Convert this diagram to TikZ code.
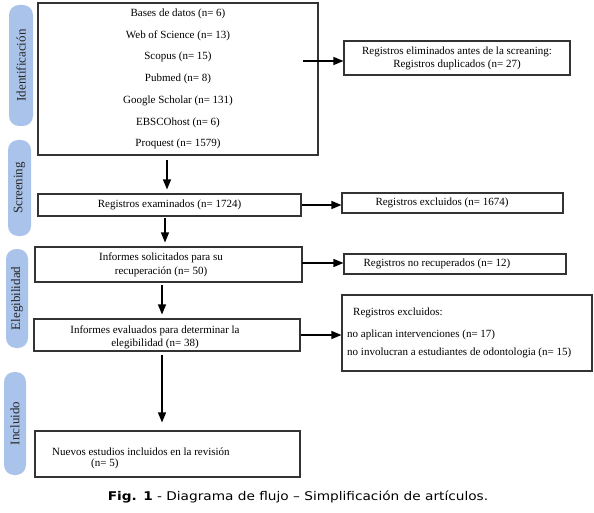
\documentclass[tikz,border=0pt]{standalone}
\usepackage{fontspec}
\setmainfont{Liberation Serif}
\newfontfamily\capfont[FakeStretch=1.14]{DejaVu Sans}
\usetikzlibrary{arrows.meta}
\definecolor{barblue}{HTML}{A9C3EA}
\definecolor{boxline}{HTML}{333333}
\begin{document}
\begin{tikzpicture}[x=1pt,y=-1pt,
  box/.style={draw=boxline, line width=1.1pt, inner sep=0pt},
  txt/.style={inner sep=0pt, font=\fontsize{11}{13}\selectfont, text=black},
  bar/.style={fill=barblue, rounded corners=10pt, rotate=90, inner sep=0pt,
    font=\fontsize{13}{15}\selectfont, text=black!85},
  arr/.style={line width=1.3pt, -{Triangle[length=10pt,width=8pt]}},
  varr/.style={arr, shorten >=4pt}]
\useasboundingbox (0,0) rectangle (594,513);
% side bars
\node[bar, minimum width=121pt, minimum height=24pt] (bid) at (21,65.5) {Identificación};
\node[bar, minimum width=96pt, minimum height=23pt] (bscr) at (19.5,188) {Screening};
\node[bar, minimum width=99pt, minimum height=22pt] (beleg) at (17,298.5) {Elegibilidad};
\node[bar, minimum width=103pt, minimum height=22pt] (binc) at (15,423.5) {Incluido};
% boxes
\node[box, minimum width=280pt, minimum height=152pt, align=center,
  font=\fontsize{11}{21.7}\selectfont] (db) at (178,79)
  {Bases de datos (n= 6)\\Web of Science (n= 13)\\Scopus (n= 15)\\Pubmed (n= 8)\\Google Scholar (n= 131)\\EBSCOhost (n= 6)\\Proquest (n= 1579)};
\node[box, minimum width=226pt, minimum height=34pt, align=center,
  font=\fontsize{11}{13}\selectfont] (elim) at (457,58)
  {Registros eliminados antes de la screaning:\\Registros duplicados (n= 27)};
\node[box, minimum width=263pt, minimum height=22pt,
  font=\fontsize{11}{13}\selectfont] (exam) at (169.5,205) {Registros examinados (n= 1724)};
\node[box, minimum width=221pt, minimum height=20pt] (excl1) at (452.5,203) {};
\node[txt] (excl1t) at (442,203) {Registros excluidos (n= 1674)};
\node[box, minimum width=267pt, minimum height=35pt] (solic) at (168.5,264.5) {};
\node[txt, align=center, font=\fontsize{11}{14}\selectfont] (solict) at (161,265) {Informes solicitados para su\\recuperación (n= 50)};
\node[box, minimum width=222pt, minimum height=20pt] (norec) at (455,264) {};
\node[txt] (norect) at (437,264) {Registros no recuperados (n= 12)};
\node[box, minimum width=266pt, minimum height=32pt] (eval) at (167,335) {};
\node[txt, align=center] (evalt) at (155,337.5) {Informes evaluados para determinar la\\elegibilidad (n= 38)};
\node[box, minimum width=250pt, minimum height=76pt] (excl2) at (467,333) {};
\node[txt, anchor=west] (ex2a) at (353,313) {Registros excluidos:};
\node[txt, anchor=west] (ex2b) at (347,335) {no aplican intervenciones (n= 17)};
\node[txt, anchor=west] (ex2c) at (347,353) {no involucran a estudiantes de odontologia (n= 15)};
\node[box, minimum width=265pt, minimum height=46pt] (nuevos) at (167.5,454) {};
\node[txt, anchor=west] (nua) at (52,452) {Nuevos estudios incluidos en la revisión};
\node[txt, anchor=west] (nub) at (91,464) {(n= 5)};
% arrows
\coordinate (s1) at (303,61);
\draw[arr] (s1) -- (s1 -| elim.west);
\coordinate (s2) at (167,160);
\draw[varr] (s2) -- (s2 |- exam.north);
\draw[arr] (exam.east) -- (exam.east -| excl1.west);
\coordinate (s3) at (165,218);
\draw[varr] (s3) -- (s3 |- solic.north);
\coordinate (s4) at (302,263);
\draw[arr] (s4) -- (s4 -| norec.west);
\coordinate (s5) at (162,285);
\draw[varr] (s5) -- (s5 |- eval.north);
\draw[arr] (eval.east) -- (eval.east -| excl2.west);
\coordinate (s6) at (162,355);
\draw[arr, shorten >=8pt] (s6) -- (s6 |- nuevos.north);
% caption
\node[inner sep=0pt, font=\capfont\fontsize{12}{14}\selectfont] (cap) at (298,497)
  {\textbf{Fig. 1} - Diagrama de flujo – Simplificación de artículos.};
\end{tikzpicture}
\end{document}
